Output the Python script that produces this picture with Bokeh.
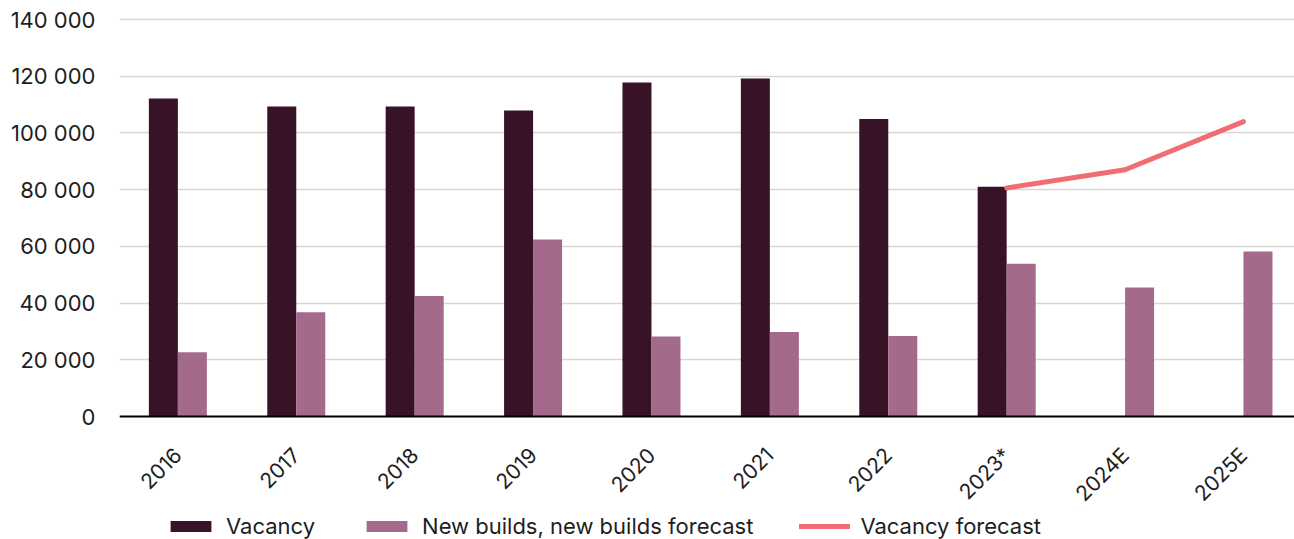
import math
from bokeh.plotting import figure
from bokeh.models import Range1d, FixedTicker, Legend, LegendItem, ColumnDataSource
from bokeh.embed import file_html
from bokeh.resources import INLINE

# ---- data ----
categories = ["2016", "2017", "2018", "2019", "2020", "2021", "2022", "2023*", "2024E", "2025E"]
vacancy = [112100, 109300, 109300, 107900, 117800, 119200, 104900, 81000, None, None]
new_builds = [22700, 36800, 42500, 62400, 28200, 29800, 28400, 53900, 45500, 58200]
forecast_cats = ["2023*", "2024E", "2025E"]
vacancy_forecast = [80600, 87000, 104000]
y_ticks = [0, 20000, 40000, 60000, 80000, 100000, 120000, 140000]

FONT = "Inter"
TXT = "#1e1e1e"
C_VAC = "#381327"
C_NEW = "#a36a8b"
C_LINE = "#f06e73"

idx = {c: i for i, c in enumerate(categories)}
bw = 0.245

vac_src = ColumnDataSource(dict(
    x=[idx[c] - bw / 2 for c, v in zip(categories, vacancy) if v is not None],
    top=[v for v in vacancy if v is not None]))
new_src = ColumnDataSource(dict(
    x=[idx[c] + bw / 2 for c in categories],
    top=new_builds))
fc_src = ColumnDataSource(dict(
    x=[idx[c] for c in forecast_cats],
    y=vacancy_forecast))

# frame covers the canvas from x=119 to the right edge, full height;
# value 0 sits at y=416 and 140 000 at y=19.
PX = 397 / 140000
p = figure(width=1294, height=539, output_backend="svg", toolbar_location=None,
           x_range=Range1d(-0.493, 9.431),
           y_range=Range1d(-(539 - 416) / PX, 416 / PX),
           min_border_left=119, min_border_right=0, min_border_top=0, min_border_bottom=0)
p.outline_line_color = None
p.background_fill_color = "white"
p.border_fill_color = "white"

r_vac = p.vbar(x="x", top="top", width=bw, bottom=0, source=vac_src,
               fill_color=C_VAC, line_color=None)
r_new = p.vbar(x="x", top="top", width=bw, bottom=0, source=new_src,
               fill_color=C_NEW, line_color=None)
r_line = p.line(x="x", y="y", source=fc_src, line_color=C_LINE, line_width=5,
                line_cap="round", line_join="round")

# grid
p.xgrid.grid_line_color = None
p.ygrid.grid_line_color = "#d6d6d6"
p.ygrid.grid_line_width = 1.3

# y axis
p.yaxis.ticker = FixedTicker(ticks=y_ticks)
p.yaxis.major_label_overrides = {t: f"{t:,}".replace(",", " ") for t in y_ticks}
p.yaxis.axis_line_color = None
p.yaxis.major_tick_line_color = None
p.yaxis.minor_tick_line_color = None
p.yaxis.major_label_standoff = 18
p.yaxis.major_label_text_font = FONT
p.yaxis.major_label_text_font_size = "22px"
p.yaxis.major_label_text_color = TXT

# x axis, pinned at value 0 inside the frame
p.xaxis.fixed_location = 0
p.xaxis.ticker = FixedTicker(ticks=list(range(len(categories))))
p.xaxis.major_label_overrides = {i: c for i, c in enumerate(categories)}
p.xaxis.axis_line_color = "black"
p.xaxis.axis_line_width = 1.8
p.xaxis.major_tick_line_color = None
p.xaxis.minor_tick_line_color = None
p.xaxis.major_label_orientation = math.pi / 4
p.xaxis.major_label_standoff = 29
p.xaxis.major_label_text_font = FONT
p.xaxis.major_label_text_font_size = "21px"
p.xaxis.major_label_text_color = TXT

legend = Legend(items=[
    LegendItem(label="Vacancy", renderers=[r_vac]),
    LegendItem(label="New builds, new builds forecast", renderers=[r_new]),
    LegendItem(label="Vacancy forecast", renderers=[r_line]),
], orientation="horizontal", location=(46, 0))
legend.padding = 0
legend.margin = 0
legend.spacing = 46
legend.label_standoff = 10
legend.glyph_width = 51
legend.glyph_height = 14
legend.border_line_color = None
legend.background_fill_alpha = 0
legend.label_text_font = FONT
legend.label_text_font_size = "22px"
legend.label_text_color = TXT
legend.label_height = 14
p.add_layout(legend, "center")

open("out.html", "w").write(file_html(p, INLINE))
